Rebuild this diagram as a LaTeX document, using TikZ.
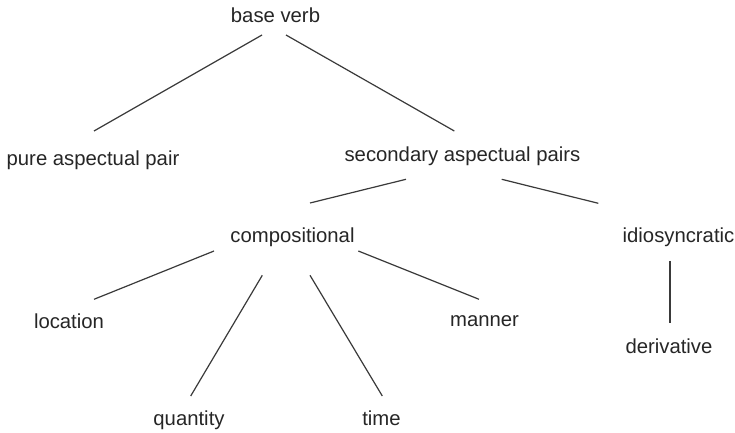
\documentclass[tikz,border=0pt]{standalone}
\usepackage{fontspec}
\setmainfont{Liberation Sans}
\definecolor{ink}{HTML}{262626}
\definecolor{edge}{HTML}{3A3A3A}
\begin{document}
\begin{tikzpicture}[x=1bp,y=-1bp,
  lbl/.style={anchor=base,inner sep=0pt,text=ink,font=\fontsize{20.3bp}{24bp}\selectfont},
  conn/.style={draw=edge,line width=1.2bp}]
\useasboundingbox[fill=white] (0,0) rectangle (735,433);
\node[lbl] (base) at (275.5,22.7) {base verb};
\node[lbl] (pure) at (93,166) {pure aspectual pair};
\node[lbl] (sec) at (462.5,162) {secondary aspectual pairs};
\node[lbl] (comp) at (292.5,242.7) {compositional};
\node[lbl] (idio) at (678.5,242.7) {idiosyncratic};
\node[lbl] (loc) at (69,329) {location};
\node[lbl] (man) at (484.5,326.7) {manner};
\node[lbl] (der) at (669,353.3) {derivative};
\node[lbl] (qua) at (189,425) {quantity};
\node[lbl] (tim) at (381.5,425.7) {time};
\draw[conn] ([shift={(-13.5,12.3)}]base.base) -- ([shift={(1,-35)}]pure.base);
\draw[conn] ([shift={(10.5,12.3)}]base.base) -- ([shift={(-8.2,-31)}]sec.base);
\draw[conn] ([shift={(-56.5,17.3)}]sec.base) -- ([shift={(17.5,-39.7)}]comp.base);
\draw[conn] ([shift={(39.2,17.3)}]sec.base) -- ([shift={(-80.2,-39.4)}]idio.base);
\draw[conn] ([shift={(-78.5,8.3)}]comp.base) -- ([shift={(25,-29.7)}]loc.base);
\draw[conn] ([shift={(-30.2,32.6)}]comp.base) -- ([shift={(1.7,-29)}]qua.base);
\draw[conn] ([shift={(17.5,32.6)}]comp.base) -- ([shift={(0.8,-29.7)}]tim.base);
\draw[conn] ([shift={(65.8,8.3)}]comp.base) -- ([shift={(-5.5,-27.4)}]man.base);
\draw[conn] ([shift={(-8.5,18.3)}]idio.base) -- ([shift={(1,-30)}]der.base);
\end{tikzpicture}
\end{document}
